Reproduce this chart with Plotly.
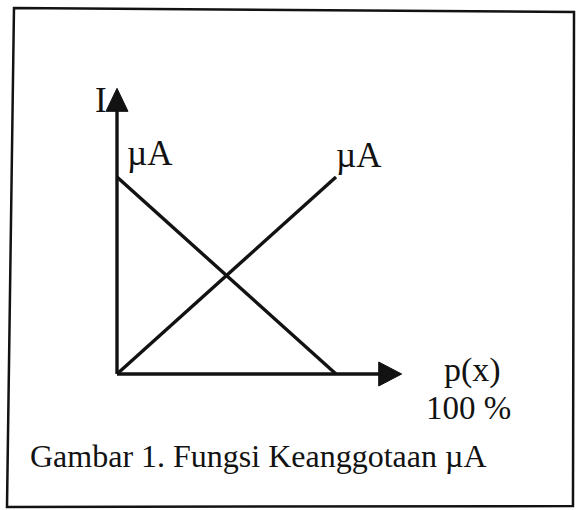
import plotly.graph_objects as go

W, H = 578, 510

# Membership functions over p(x), in percent
p_pct = [0, 100]
mu_falling = [1, 0]
mu_rising = [0, 1]

# Axis extents (data units) and their labels
x_axis_end = 130
y_axis_end = 1.45
y_label = "I"
line_labels = ["\u00b5A", "\u00b5A"]
x_label = "p(x)"
x_unit = "100 %"
caption = "Gambar 1. Fungsi Keanggotaan \u00b5A"

# Pixel placement of the data origin and scale (plot area fills the figure)
X0_PX, Y0_PX = 117, 374
X_SCALE = 2.19   # px per percent
Y_SCALE = 197    # px per membership unit

x_range = [-X0_PX / X_SCALE, (W - X0_PX) / X_SCALE]
y_range = [-(H - Y0_PX) / Y_SCALE, Y0_PX / Y_SCALE]

INK = "#121212"
FONT = "Liberation Serif, Times New Roman, serif"
LW = 3.4

fig = go.Figure()

# axes
head_len, head_half = 23, 11
fig.add_trace(go.Scatter(x=[0, 0], y=[0, y_axis_end - head_len / Y_SCALE + 0.01],
                         mode="lines", line=dict(color=INK, width=LW), hoverinfo="skip"))
fig.add_trace(go.Scatter(x=[0, x_axis_end - head_len / X_SCALE + 0.5], y=[0, 0],
                         mode="lines", line=dict(color=INK, width=LW), hoverinfo="skip"))

# arrowheads
fig.add_trace(go.Scatter(
    x=[0, -head_half / X_SCALE, head_half / X_SCALE, 0],
    y=[y_axis_end, y_axis_end - head_len / Y_SCALE, y_axis_end - head_len / Y_SCALE, y_axis_end],
    mode="lines", fill="toself", fillcolor=INK, line=dict(color=INK, width=1), hoverinfo="skip"))
fig.add_trace(go.Scatter(
    x=[x_axis_end, x_axis_end - head_len / X_SCALE, x_axis_end - head_len / X_SCALE, x_axis_end],
    y=[0, (head_half + 1) / Y_SCALE, -(head_half + 1) / Y_SCALE, 0],
    mode="lines", fill="toself", fillcolor=INK, line=dict(color=INK, width=1), hoverinfo="skip"))

# membership lines
fig.add_trace(go.Scatter(x=p_pct, y=mu_falling, mode="lines",
                         line=dict(color=INK, width=LW), hoverinfo="skip"))
fig.add_trace(go.Scatter(x=p_pct, y=mu_rising, mode="lines",
                         line=dict(color=INK, width=LW), hoverinfo="skip"))


def px(xp, yp):
    return xp / W, 1 - yp / H


def label(text, xp, yp, size=33, anchor="center"):
    fx, fy = px(xp, yp)
    fig.add_annotation(x=fx, y=fy, xref="paper", yref="paper", text=text,
                       showarrow=False, xanchor=anchor, yanchor="middle",
                       font=dict(family=FONT, size=size, color=INK))


label(y_label, 101, 101, size=35)
label(line_labels[0], 150, 153, size=35)
label(line_labels[1], 359, 155, size=35)
label(x_label, 472, 370, size=34)
label(x_unit, 468, 408)
label(caption, 258, 456, size=32)

# outer frame
corners = [(14, 8), (574, 12), (573, 506), (7, 507)]
path = "M " + " L ".join(f"{a:.4f},{b:.4f}" for a, b in (px(*c) for c in corners)) + " Z"
fig.add_shape(type="path", path=path, xref="paper", yref="paper",
              line=dict(color=INK, width=2.5))

fig.update_layout(
    width=W, height=H, margin=dict(l=0, r=0, t=0, b=0),
    paper_bgcolor="white", plot_bgcolor="white", showlegend=False,
    xaxis=dict(range=x_range, visible=False, fixedrange=True),
    yaxis=dict(range=y_range, visible=False, fixedrange=True),
)

fig.write_html("out.html", config={"displayModeBar": False})
